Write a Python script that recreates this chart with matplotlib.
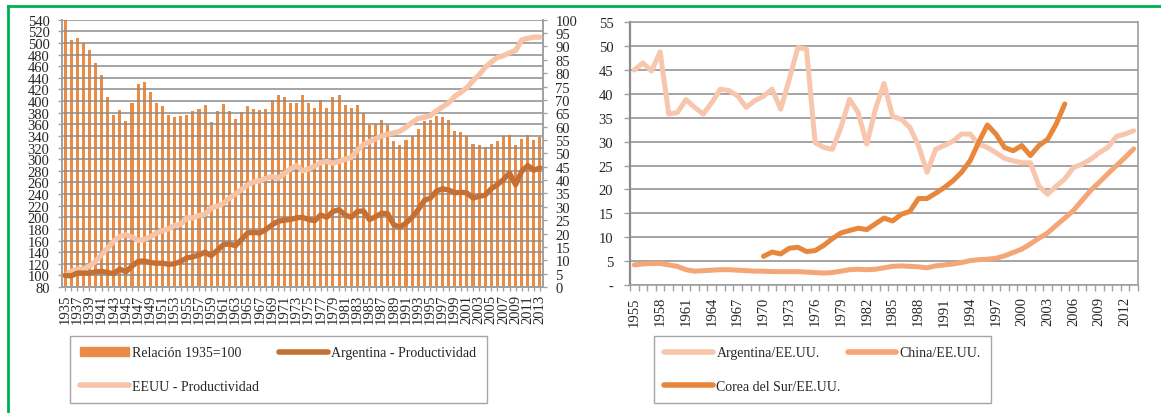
"""Productividad: Argentina vs EEUU (izq.) y brecha relativa (der.)."""
import matplotlib
matplotlib.use("Agg")
import matplotlib.pyplot as plt
import numpy as np
from matplotlib.lines import Line2D

plt.rcParams["font.family"] = ["Liberation Serif", "DejaVu Serif"]

# ---- left panel data (1935 = 100) ----
YEARS_L = np.arange(1935, 2014)
RELACION = [100, 92.4, 93.3, 91.3, 88.5, 83.7, 79.3, 71.1, 64.3, 66.3,
            62.0, 68.9, 76.1, 76.7, 73.0, 68.9, 67.6, 64.3, 63.7, 64.1,
            64.3, 65.9, 66.5, 68.0, 61.7, 65.9, 68.3, 65.9, 63.0, 65.4,
            67.8, 66.5, 66.3, 66.7, 70.0, 71.7, 71.0, 69.0, 69.0, 72.0,
            69.0, 67.0, 70.0, 67.0, 71.0, 72.0, 68.0, 67.0, 68.0, 65.0,
            60.5, 61.0, 62.5, 60.5, 54.5, 53.0, 55.0, 56.5, 59.0, 62.0,
            62.5, 64.0, 63.5, 62.5, 58.5, 58.0, 56.5, 53.5, 53.0, 52.5,
            53.5, 54.5, 56.5, 57.0, 53.0, 55.5, 57.0, 55.0, 56.0]
ARG_PROD = [100, 99, 104, 104, 104, 106, 107, 105, 103, 111,
            106, 116, 124, 125, 122, 121, 121, 119, 120, 124,
            130, 132, 135, 140, 134, 143, 153, 154, 151, 162,
            173, 174, 173, 179, 187, 193, 195, 196, 199, 200,
            196, 194, 204, 200, 210, 213, 204, 200, 210, 211,
            196, 201, 207, 206, 187, 183, 190, 200, 213, 229,
            233, 245, 249, 247, 242, 243, 242, 233, 236, 238,
            249, 256, 265, 276, 256, 279, 289, 281, 285]
EEUU_PROD = [100, 107, 111, 111, 116, 124, 136, 147, 159, 167,
             170, 166, 160, 162, 166, 173, 177, 180, 186, 188,
             199, 199, 203, 205, 216, 219, 224, 233, 240, 248,
             256, 261, 263, 267, 270, 267, 275, 283, 289, 280,
             283, 288, 294, 296, 293, 296, 300, 303, 315, 325,
             330, 335, 340, 343, 345, 348, 355, 363, 370, 372,
             375, 383, 390, 397, 408, 415, 423, 435, 445, 458,
             467, 475, 478, 483, 487, 505, 508, 510, 510]

# ---- right panel data (% of US) ----
YEARS_R = np.arange(1955, 2014)
ARG_EEUU = [45.0, 46.5, 44.8, 48.8, 35.8, 36.1, 38.8, 37.2, 35.8, 38.2,
            41.0, 40.7, 39.6, 37.2, 38.6, 39.5, 41.0, 36.8, 43.1, 49.7,
            49.4, 29.8, 28.8, 28.4, 33.0, 38.9, 36.1, 29.5, 36.8, 42.2,
            35.3, 34.7, 33.0, 29.2, 23.6, 28.4, 29.2, 30.1, 31.6, 31.6,
            29.5, 28.8, 27.7, 26.5, 26.0, 25.6, 25.6, 20.7, 19.0, 20.7,
            22.2, 24.6, 25.3, 26.3, 27.7, 28.8, 31.1, 31.6, 32.3]
CHINA_EEUU = [4.2, 4.4, 4.5, 4.5, 4.2, 3.9, 3.2, 2.9, 3.0, 3.1,
              3.2, 3.2, 3.1, 3.0, 2.9, 2.9, 2.8, 2.8, 2.8, 2.8,
              2.7, 2.6, 2.5, 2.6, 2.9, 3.2, 3.3, 3.2, 3.3, 3.6,
              3.9, 4.0, 3.9, 3.8, 3.6, 4.0, 4.2, 4.4, 4.7, 5.1,
              5.3, 5.4, 5.6, 6.1, 6.8, 7.5, 8.6, 9.8, 10.9, 12.5,
              14.0, 15.6, 17.7, 19.8, 21.5, 23.3, 25.0, 26.7, 28.5]
YEARS_KOR = np.arange(1970, 2006)
COREA_EEUU = [6.0, 6.9, 6.5, 7.7, 7.9,
              7.0, 7.2, 8.3, 9.7, 10.9, 11.4, 11.9, 11.6, 12.8, 14.0,
              13.4, 14.8, 15.4, 18.1, 18.1, 19.2, 20.4, 21.8, 23.6, 26.0,
              29.9, 33.5, 31.6, 28.8, 28.1, 29.2, 27.1, 29.2, 30.5, 33.7,
              37.9]

C_BAR = "#EA8C43"
C_ARG = "#C46F33"
C_US = "#F7C4A8"
C_ARG_R = "#F7C6AD"
C_CHN = "#F5A676"
C_KOR = "#E8873B"
GRID = "#8C8C8C"
SPINE = "#A0A0A0"
TXT = "#262626"
FS = 10.5

LEG_KW = dict(loc="upper left", ncol=2, borderaxespad=0, fontsize=10,
              handlelength=3.5, handletextpad=0.25, labelspacing=1.45,
              borderpad=0.75, fancybox=False, edgecolor="#A6A6A6",
              framealpha=1, labelcolor=TXT)

fig = plt.figure(figsize=(11.61, 4.14), dpi=100)

# ================= left panel =================
ax = fig.add_axes([62 / 1161, 1 - 288 / 414, 481 / 1161, 267.3 / 414])
ax2 = ax.twinx()
ax2.bar(YEARS_L, RELACION, width=0.5, color=C_BAR, zorder=1)
ax2.set_ylim(0, 100)
ax2.set_yticks(np.arange(0, 101, 5))
ax.set_zorder(ax2.get_zorder() + 1)
ax.patch.set_visible(False)

ax.plot(YEARS_L, EEUU_PROD, color=C_US, lw=3.8, solid_capstyle="round",
        solid_joinstyle="round", zorder=3)
ax.plot(YEARS_L, ARG_PROD, color=C_ARG, lw=3.8, solid_capstyle="round",
        solid_joinstyle="round", zorder=4)
ax.set_ylim(80, 540)
ax.set_yticks(np.arange(80, 541, 20))
ax.set_xlim(1934.5, 2013.5)
ax.set_xticks(YEARS_L[::2])
ax.set_xticks(YEARS_L, minor=True)
ax.set_xticklabels([str(y) for y in YEARS_L[::2]], rotation=90)
ax.grid(True, axis="y", color=GRID, lw=1.1)
ax.set_axisbelow("line")

for a in (ax, ax2):
    for s in a.spines.values():
        s.set_color(SPINE)
        s.set_linewidth(1.2)
    a.spines["top"].set_visible(False)
ax.tick_params(axis="y", colors=SPINE, labelcolor=TXT, labelsize=FS,
               length=3, width=1, pad=6)
ax.tick_params(axis="x", which="both", colors=SPINE, labelcolor=TXT,
               labelsize=FS, length=3, width=1, pad=2)
ax2.tick_params(axis="y", colors=SPINE, labelcolor=TXT, labelsize=FS,
                length=3, width=1, pad=6)

h_bar = plt.Rectangle((0, 0), 1, 1, color=C_BAR)
h_arg = Line2D([], [], color=C_ARG, lw=4, solid_capstyle="round")
h_us = Line2D([], [], color=C_US, lw=4, solid_capstyle="round")
# column-major fill: row 1 = bar, Argentina; row 2 = EEUU
fig.legend([h_bar, h_us, h_arg],
           ["Relación 1935=100", "EEUU - Productividad",
            "Argentina - Productividad"],
           bbox_to_anchor=(70 / 1161, 1 - 337 / 414), columnspacing=1.4,
           **LEG_KW)

# ================= right panel =================
bx = fig.add_axes([630 / 1161, 1 - 286 / 414, 508 / 1161, 262.7 / 414])
bx.plot(YEARS_R, ARG_EEUU, color=C_ARG_R, lw=3.6, solid_capstyle="round",
        solid_joinstyle="round", zorder=3)
bx.plot(YEARS_R, CHINA_EEUU, color=C_CHN, lw=3.6, solid_capstyle="round",
        solid_joinstyle="round", zorder=4)
bx.plot(YEARS_KOR, COREA_EEUU, color=C_KOR, lw=3.6, solid_capstyle="round",
        solid_joinstyle="round", zorder=5)
bx.set_xlim(1954.5, 2013.5)
bx.set_ylim(0, 55)
bx.set_yticks(np.arange(0, 56, 5))
bx.set_yticklabels(["-"] + [str(v) for v in range(5, 56, 5)])
bx.set_xticks(YEARS_R[::3])
bx.set_xticklabels([str(y) for y in YEARS_R[::3]], rotation=90)
bx.set_xticks(np.arange(1954.5, 2014, 1), minor=True)
bx.grid(True, axis="y", color=GRID, lw=1.1)
bx.set_axisbelow(True)
for s in bx.spines.values():
    s.set_color(SPINE)
    s.set_linewidth(1.2)
bx.spines["left"].set_linewidth(1.6)
bx.spines["left"].set_color("#8C8C8C")
bx.tick_params(axis="y", colors=SPINE, labelcolor=TXT, labelsize=FS,
               length=4, width=1, pad=8)
bx.tick_params(axis="x", which="major", length=0, labelcolor=TXT,
               labelsize=FS, pad=8)
bx.tick_params(axis="x", which="minor", colors=SPINE, length=4, width=1)

k_arg = Line2D([], [], color=C_ARG_R, lw=4, solid_capstyle="round")
k_chn = Line2D([], [], color=C_CHN, lw=4, solid_capstyle="round")
k_kor = Line2D([], [], color=C_KOR, lw=4, solid_capstyle="round")
fig.legend([k_arg, k_kor, k_chn],
           ["Argentina/EE.UU.", "Corea del Sur/EE.UU.", "China/EE.UU."],
           bbox_to_anchor=(654 / 1161, 1 - 337 / 414), columnspacing=0.5,
           **LEG_KW)

# green frame
fig.add_artist(Line2D([8 / 1161, 1], [1 - 7 / 414, 1 - 7 / 414],
                      color="#00B050", lw=2, transform=fig.transFigure))
fig.add_artist(Line2D([8 / 1161, 8 / 1161], [0, 1 - 7 / 414],
                      color="#00B050", lw=2, transform=fig.transFigure))

fig.savefig("out.png", dpi=100)
